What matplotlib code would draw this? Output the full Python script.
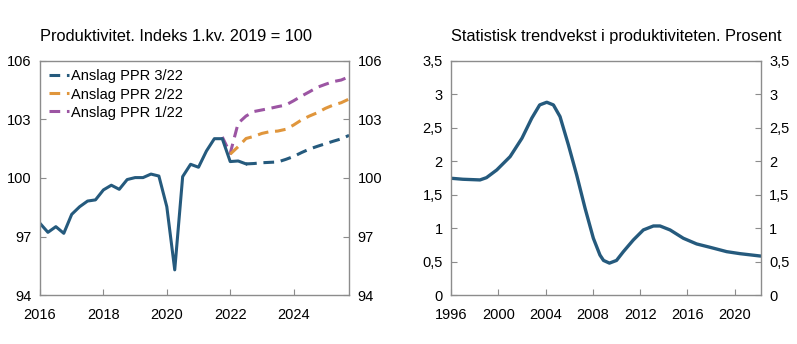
import matplotlib
matplotlib.use("Agg")
import matplotlib.pyplot as plt

plt.rcParams['font.family'] = ['Liberation Sans', 'DejaVu Sans']

# Produktivitet, kvartalstall (1.kv. 2019 = 100)
hist_x = [2016.0, 2016.25, 2016.5, 2016.75, 2017.0, 2017.25, 2017.5, 2017.75,
          2018.0, 2018.25, 2018.5, 2018.75, 2019.0, 2019.25, 2019.5, 2019.75,
          2020.0, 2020.25, 2020.5, 2020.75, 2021.0, 2021.25, 2021.5, 2021.75,
          2022.0, 2022.25, 2022.5]
hist_y = [97.68, 97.22, 97.51, 97.17, 98.14, 98.53, 98.82, 98.88,
          99.39, 99.63, 99.42, 99.92, 100.02, 100.02, 100.20, 100.10,
          98.53, 95.30, 100.07, 100.70, 100.55, 101.38, 102.01, 102.01,
          100.84, 100.87, 100.72]

ppr3_x = [2022.5, 2022.75, 2023.0, 2023.25, 2023.5, 2023.75, 2024.0, 2024.25,
          2024.5, 2024.75, 2025.0, 2025.25, 2025.5, 2025.75]
ppr3_y = [100.72, 100.74, 100.78, 100.80, 100.82, 100.95, 101.10, 101.30,
          101.48, 101.62, 101.75, 101.88, 102.00, 102.18]

ppr2_x = [2022.0, 2022.25, 2022.5, 2022.75, 2023.0, 2023.25, 2023.5, 2023.75,
          2024.0, 2024.25, 2024.5, 2024.75, 2025.0, 2025.25, 2025.5, 2025.75]
ppr2_y = [101.22, 101.60, 102.02, 102.13, 102.28, 102.37, 102.40, 102.49,
          102.71, 102.97, 103.17, 103.34, 103.56, 103.73, 103.85, 104.04]

ppr1_x = [2021.75, 2022.0, 2022.25, 2022.5, 2022.75, 2023.0, 2023.25, 2023.5,
          2023.75, 2024.0, 2024.25, 2024.5, 2024.75, 2025.0, 2025.25, 2025.5,
          2025.75]
ppr1_y = [102.10, 101.26, 102.80, 103.17, 103.40, 103.48, 103.56, 103.65,
          103.73, 103.95, 104.19, 104.41, 104.64, 104.79, 104.93, 105.01,
          105.18]

# Statistisk trendvekst, prosent
trend_x = [1996.0, 1997.0, 1998.45, 1999.0, 1999.87, 2001.0, 2002.0, 2002.83,
           2003.5, 2004.1, 2004.66, 2005.22, 2005.93, 2006.63, 2007.34, 2008.04,
           2008.6, 2008.9, 2009.4, 2010.0, 2010.58, 2011.42, 2012.27, 2013.12,
           2013.68, 2014.53, 2015.65, 2016.78, 2017.91, 2019.32, 2020.45, 2022.2]
trend_y = [1.746, 1.731, 1.721, 1.755, 1.870, 2.069, 2.343, 2.642,
           2.840, 2.880, 2.840, 2.666, 2.243, 1.795, 1.298, 0.851,
           0.600, 0.520, 0.480, 0.520, 0.651, 0.825, 0.975, 1.034,
           1.034, 0.975, 0.851, 0.766, 0.716, 0.651, 0.621, 0.585]

blue = '#255a7d'
orange = '#e0963c'
purple = '#9c55a3'
frame = '#8c8c8c'
fs = 10.5

fig = plt.figure(figsize=(7.97, 3.44), dpi=100)
ax1 = fig.add_axes([0.0502, 0.1416, 0.3878, 0.682])
ax2 = fig.add_axes([0.5659, 0.1416, 0.3886, 0.682])


def style(ax, yticks, ylabels, xticks, xlim, ylim):
    ax.set_xlim(*xlim)
    ax.set_ylim(*ylim)
    ax.set_xticks(xticks)
    ax.set_xticklabels([str(t) for t in xticks], fontsize=fs)
    ax.set_yticks(yticks)
    ax.set_yticklabels(ylabels, fontsize=fs)
    for s in ax.spines.values():
        s.set_color(frame)
        s.set_linewidth(1.0)
    ax.tick_params(direction='in', length=4, color=frame, width=0.8)
    ax.tick_params(axis='y', left=True, right=True, labelleft=True,
                   labelright=True, pad=6)
    ax.tick_params(axis='x', pad=9)


ax1.plot(ppr1_x, ppr1_y, color=purple, lw=2.2, dashes=(3.5, 2.2), label='Anslag PPR 1/22')
ax1.plot(ppr2_x, ppr2_y, color=orange, lw=2.2, dashes=(3.5, 2.2), label='Anslag PPR 2/22')
ax1.plot(ppr3_x, ppr3_y, color=blue, lw=2.2, dashes=(3.5, 2.2), label='Anslag PPR 3/22')
ax1.plot(hist_x, hist_y, color=blue, lw=2.2, solid_joinstyle='round')
style(ax1, [94, 97, 100, 103, 106], ['94', '97', '100', '103', '106'],
      [2016, 2018, 2020, 2022, 2024], (2016, 2025.75), (94, 106))
handles, labels = ax1.get_legend_handles_labels()
ax1.legend(handles[::-1], labels[::-1], loc='upper left', frameon=False,
           fontsize=fs, handlelength=1.4, handletextpad=0.1,
           labelspacing=0.28, borderaxespad=0.2, bbox_to_anchor=(0.0, 1.0))
fig.text(0.0502, 0.872, 'Produktivitet. Indeks 1.kv. 2019 = 100', fontsize=11.8,
         ha='left', va='bottom')

ax2.plot(trend_x, trend_y, color=blue, lw=2.4, solid_joinstyle='round',
         solid_capstyle='round')
style(ax2, [0, 0.5, 1, 1.5, 2, 2.5, 3, 3.5],
      ['0', '0,5', '1', '1,5', '2', '2,5', '3', '3,5'],
      [1996, 2000, 2004, 2008, 2012, 2016, 2020], (1996, 2022.2), (0, 3.5))
fig.text(0.5659, 0.872, 'Statistisk trendvekst i produktiviteten. Prosent',
         fontsize=11.8, ha='left', va='bottom')

fig.savefig('out.png', dpi=100)
